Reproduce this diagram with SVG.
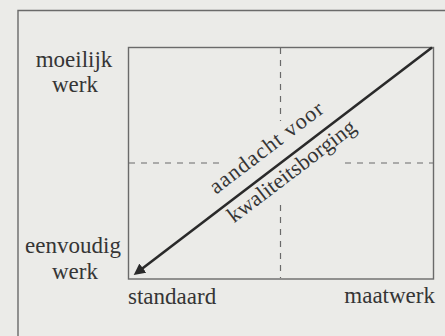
<svg xmlns="http://www.w3.org/2000/svg" width="445" height="336" viewBox="0 0 445 336">
  <defs>
    <style>
      .lbl { font-family: "Liberation Serif", "Times New Roman", serif; font-size: 23px; fill: #353535; }
      .diag { font-family: "Liberation Serif", "Times New Roman", serif; font-size: 22px; fill: #353535; }
      .frame { fill: none; stroke: #6a6a6a; stroke-width: 1.4; }
      .dash { fill: none; stroke: #6a6a6a; stroke-width: 1.2; stroke-dasharray: 6 6; }
    </style>
    <marker id="arrow" viewBox="0 0 10 10" refX="2" refY="5" markerWidth="4.4" markerHeight="4.4" orient="auto-start-reverse" markerUnits="strokeWidth">
      <path d="M0,0 L10,5 L0,10 z" fill="#2a2a2a"/>
    </marker>
  </defs>
  <rect x="0" y="0" width="445" height="336" fill="#ebebe8"/>

  <g id="outer-frame">
    <path class="frame" d="M18,336 L18,10.5 L445,10.5" stroke="#5e5e5e"/>
  </g>

  <g id="matrix">
    <rect class="frame" x="128.5" y="47.5" width="305" height="231.5"/>
  </g>

  <g id="connectors">
    <path class="dash" d="M129,163 L223,163"/>
    <path class="dash" d="M345,163 L433,163"/>
    <path class="dash" d="M280.5,48 L280.5,121"/>
    <path class="dash" d="M280.5,205 L280.5,278"/>
    <line x1="432" y1="47.5" x2="141" y2="269.5" stroke="#2a2a2a" stroke-width="2.6" marker-end="url(#arrow)"/>
  </g>

  <g id="label-moeilijk">
    <text class="lbl" x="74" y="67" text-anchor="middle">moeilijk</text>
    <text class="lbl" x="75" y="92" text-anchor="middle">werk</text>
  </g>
  <g id="label-eenvoudig">
    <text class="lbl" x="73" y="253" text-anchor="middle">eenvoudig</text>
    <text class="lbl" x="75" y="279" text-anchor="middle">werk</text>
  </g>
  <g id="label-standaard">
    <text class="lbl" x="128" y="304">standaard</text>
  </g>
  <g id="label-maatwerk">
    <text class="lbl" x="435" y="303" text-anchor="end">maatwerk</text>
  </g>
  <g id="label-diagonal" transform="translate(132,276) rotate(-37.23)">
    <text class="diag" x="116" y="-14" textLength="137" lengthAdjust="spacing">aandacht voor</text>
    <text class="diag" x="113" y="20" textLength="155" lengthAdjust="spacing">kwaliteitsborging</text>
  </g>
</svg>
